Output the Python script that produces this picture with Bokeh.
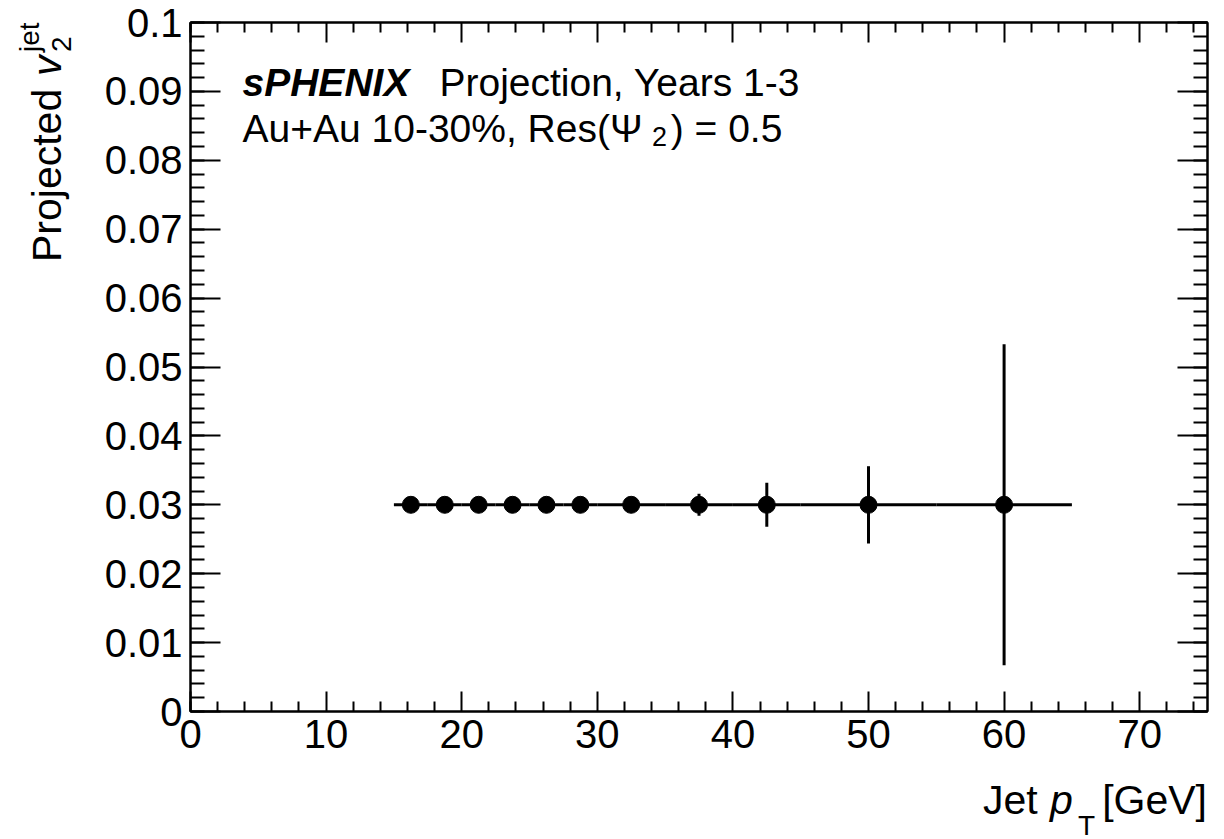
from bokeh.plotting import figure
from bokeh.models import (FixedTicker, CustomJSTickFormatter, Label, Range1d,
                          ColumnDataSource, LinearAxis, Div)
from bokeh.layouts import row, column
from bokeh.embed import file_html
from bokeh.resources import INLINE

# ---- data ----
pt_center = [16.25, 18.75, 21.25, 23.75, 26.25, 28.75, 32.5, 37.5, 42.5, 50.0, 60.0]
pt_low = [15.0, 17.5, 20.0, 22.5, 25.0, 27.5, 30.0, 35.0, 40.0, 45.0, 55.0]
pt_high = [17.5, 20.0, 22.5, 25.0, 27.5, 30.0, 35.0, 40.0, 45.0, 55.0, 65.0]
v2_jet = [0.03, 0.03, 0.03, 0.03, 0.03, 0.03, 0.03, 0.03, 0.03, 0.03, 0.03]
v2_err = [0.0003, 0.0004, 0.0005, 0.0006, 0.0007, 0.0008, 0.0010, 0.0016, 0.0032, 0.0056, 0.0233]

x_major_ticks = [0, 10, 20, 30, 40, 50, 60, 70]
x_minor_ticks = [0, 2, 4, 6, 8, 12, 14, 16, 18, 22, 24, 26, 28, 32, 34, 36, 38, 42, 44, 46, 48,
                 52, 54, 56, 58, 62, 64, 66, 68, 72, 74]
y_major_ticks = [0.0, 0.01, 0.02, 0.03, 0.04, 0.05, 0.06, 0.07, 0.08, 0.09, 0.1]
y_minor_ticks = [i / 500 for i in range(51)]

FONT = "Liberation Sans"
TICK_FS = "40px"
TXT_FS = 39
SUB_FS = 27
TITLE_FS = 41
TSUB_FS = 28

LEFT_W = 80          # strip holding the y title
BOTTOM_H = 59        # strip holding the x title
W, H = 1224, 839

src = ColumnDataSource(dict(
    x=pt_center, lo=pt_low, hi=pt_high, y=v2_jet,
    ylo=[v - e for v, e in zip(v2_jet, v2_err)],
    yhi=[v + e for v, e in zip(v2_jet, v2_err)],
))

p = figure(width=W - LEFT_W, height=H - BOTTOM_H, output_backend="svg", toolbar_location=None,
           x_range=Range1d(0, 75), y_range=Range1d(0, 0.1),
           min_border_left=190 - LEFT_W, min_border_right=17, min_border_top=22,
           min_border_bottom=(H - BOTTOM_H) - 711,
           x_axis_location=None, y_axis_location=None)
p.background_fill_color = "white"
p.border_fill_color = "white"
p.xgrid.visible = False
p.ygrid.visible = False
p.outline_line_color = "black"
p.outline_line_width = 2

fmt_y = CustomJSTickFormatter(code="""
    return tick.toFixed(2).replace(/0+$/, '').replace(/\\.$/, '');
""")
fmt_x = CustomJSTickFormatter(code="return tick.toFixed(0);")
fmt_none = CustomJSTickFormatter(code="return '';")

def style_axis(ax, major_len, minor_len, show_labels):
    ax.axis_line_color = "black"
    ax.axis_line_width = 2
    ax.major_tick_in = major_len
    ax.major_tick_out = 0
    ax.minor_tick_in = minor_len
    ax.minor_tick_out = 0
    ax.major_tick_line_width = 2
    ax.minor_tick_line_width = 2
    ax.major_tick_line_color = "black"
    ax.minor_tick_line_color = "black"
    ax.major_label_text_font = FONT
    ax.major_label_text_color = "black"
    if show_labels:
        ax.major_label_text_font_size = TICK_FS
    else:
        ax.major_label_text_font_size = "0px"
        ax.major_label_standoff = 0

xb = LinearAxis(ticker=FixedTicker(ticks=x_major_ticks, minor_ticks=x_minor_ticks), formatter=fmt_x)
style_axis(xb, 20, 10, True)
xb.major_label_standoff = 8
p.add_layout(xb, "below")
xt = LinearAxis(ticker=FixedTicker(ticks=x_major_ticks, minor_ticks=x_minor_ticks), formatter=fmt_none)
style_axis(xt, 20, 10, False)
p.add_layout(xt, "above")

yl = LinearAxis(ticker=FixedTicker(ticks=y_major_ticks, minor_ticks=y_minor_ticks), formatter=fmt_y)
style_axis(yl, 30, 14, True)
yl.major_label_standoff = 8
p.add_layout(yl, "left")
yr = LinearAxis(ticker=FixedTicker(ticks=y_major_ticks, minor_ticks=y_minor_ticks), formatter=fmt_none)
style_axis(yr, 30, 14, False)
p.add_layout(yr, "right")

# data
p.segment(x0="lo", x1="hi", y0="y", y1="y", source=src, line_color="black", line_width=3)
p.segment(x0="x", x1="x", y0="ylo", y1="yhi", source=src, line_color="black", line_width=3)
p.scatter(x="x", y="y", source=src, size=17, marker="circle", fill_color="black", line_color="black")

def lab(x, y, text, size, style="normal", align="left"):
    p.add_layout(Label(x=x, y=y, x_units="screen", y_units="screen", text=text,
                       text_font=FONT, text_font_size=f"{size}px", text_font_style=style,
                       text_color="black", text_align=align, text_baseline="alphabetic"))

# annotation text inside the frame (screen units relative to frame bottom-left)
x0 = 52
b1 = 629
b2 = 583
lab(x0, b1, "sPHENIX", TXT_FS, "bold italic")
lab(x0 + 5.05 * TXT_FS, b1, "Projection, Years 1-3", TXT_FS)
lab(x0, b2, "Au+Au 10-30%, Res(\u03a8", TXT_FS)
lab(x0 + 10.5 * TXT_FS, b2 - 8, "2", SUB_FS)
lab(x0 + 10.98 * TXT_FS, b2, ") = 0.5", TXT_FS)

# ---- axis titles as HTML text in side strips ----
BASE = 0.8465  # baseline offset (em) for line-height 1 in Liberation Sans

def piece(text, left, top, size, italic=False, rotate=False, right=None):
    pos = f"right:{right}px;" if right is not None else f"left:{left:.1f}px;"
    rot = "transform-origin:0 0;transform:rotate(-90deg);" if rotate else ""
    it = "font-style:italic;" if italic else ""
    return (f'<div style="position:absolute;{pos}top:{top:.1f}px;font-size:{size}px;'
            f'line-height:{size}px;white-space:nowrap;{it}{rot}">{text}</div>')

# y title (rotated): left = baseline x - ascent part, top = start (bottom end) of the piece
yt = [
    piece("Projected", 62 - BASE * TITLE_FS, 262, TITLE_FS, rotate=True),
    piece("v", 62 - BASE * TITLE_FS, 76, TITLE_FS, italic=True, rotate=True),
    piece("2", 72 - BASE * TSUB_FS, 52, TSUB_FS, rotate=True),
    piece("jet", 40 - BASE * TSUB_FS, 52, TSUB_FS, rotate=True),
]
left_html = (f'<div style="position:relative;width:{LEFT_W}px;height:{H}px;'
             f"font-family:'Liberation Sans',Arial,sans-serif;color:black;\">" + "".join(yt) + "</div>")

oy = H - BOTTOM_H
ox = LEFT_W
xt_pieces = [
    piece("Jet", 983 - ox, 815 - oy - BASE * TITLE_FS, TITLE_FS),
    piece("p", 1050 - ox, 815 - oy - BASE * TITLE_FS, TITLE_FS, italic=True),
    piece("T", 1078 - ox, 836 - oy - BASE * TSUB_FS, TSUB_FS),
    piece("[GeV]", 0, 815 - oy - BASE * TITLE_FS, TITLE_FS, right=W - 1207),
]
bottom_html = (f'<div style="position:relative;width:{W - LEFT_W}px;height:{BOTTOM_H}px;'
               f"font-family:'Liberation Sans',Arial,sans-serif;color:black;\">" + "".join(xt_pieces) + "</div>")

div_left = Div(text=left_html, width=LEFT_W, height=H, margin=0)
div_bottom = Div(text=bottom_html, width=W - LEFT_W, height=BOTTOM_H, margin=0)

layout = row(div_left, column(p, div_bottom, spacing=0), spacing=0)

open("out.html", "w").write(file_html(layout, INLINE))
